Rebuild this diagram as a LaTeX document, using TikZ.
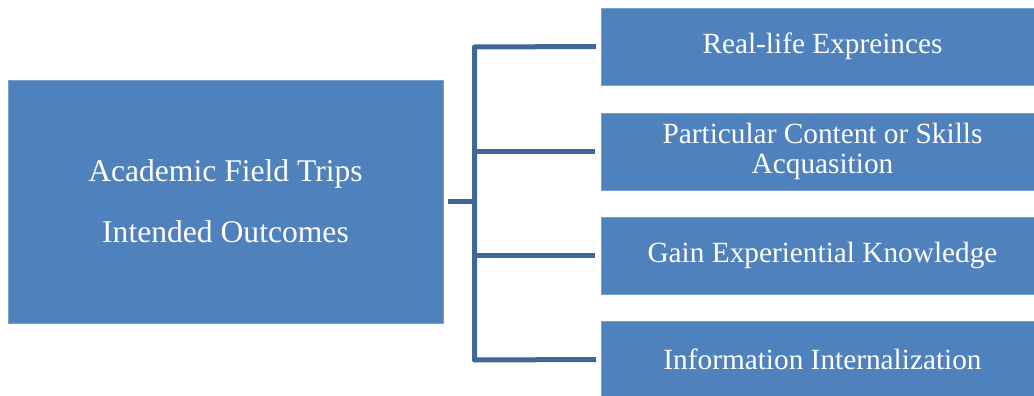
\documentclass[tikz,border=0pt]{standalone}
\usepackage{fontspec}
\setmainfont{Liberation Serif}
\definecolor{boxblue}{RGB}{79,129,189}
\definecolor{edgeblue}{RGB}{126,160,206}
\definecolor{lineblue}{RGB}{63,103,151}
\begin{document}
\begin{tikzpicture}[x=1pt,y=-1pt,
  mainbox/.style={fill=boxblue,draw=edgeblue,line width=0.8pt,minimum width=435pt,minimum height=243pt,inner sep=0pt,text=white,align=center,font=\fontsize{31.6}{60.7}\selectfont},
  itembox/.style={fill=boxblue,draw=edgeblue,line width=0.8pt,minimum width=442pt,minimum height=77pt,inner sep=0pt,text=white,align=center,font=\fontsize{29.3}{30.3}\selectfont},
  conn/.style={draw=lineblue,line width=5pt,line cap=butt,line join=round}]
\useasboundingbox (0,0) rectangle (1034,396);
\node[mainbox] (main) at (225.5,201.5) {Academic Field Trips\\Intended Outcomes};
\node[itembox] (r1) at (822.5,46.5) {Real-life Expreinces};
\node[itembox] (r2) at (822.5,151.5) {Particular Content or Skills\\Acquasition};
\node[itembox] (r3) at (822.5,255.5) {Gain Experiential Knowledge};
\node[itembox] (r4) at (822.5,359.5) {Information Internalization};
\coordinate (hub) at (474.5,201.5);
\coordinate (top) at (474.5,47);
\coordinate (bot) at (474.5,360);
\draw[conn] ([xshift=5pt]main.east) -- (hub);
\draw[conn] (r1.west -| 596,0) -- (top) -- (bot) -- (r4.west -| 596,0);
\draw[conn] (top |- r2.west) -- ([xshift=-6pt]r2.west);
\draw[conn] (top |- r3.west) -- ([xshift=-6pt]r3.west);
\end{tikzpicture}
\end{document}
